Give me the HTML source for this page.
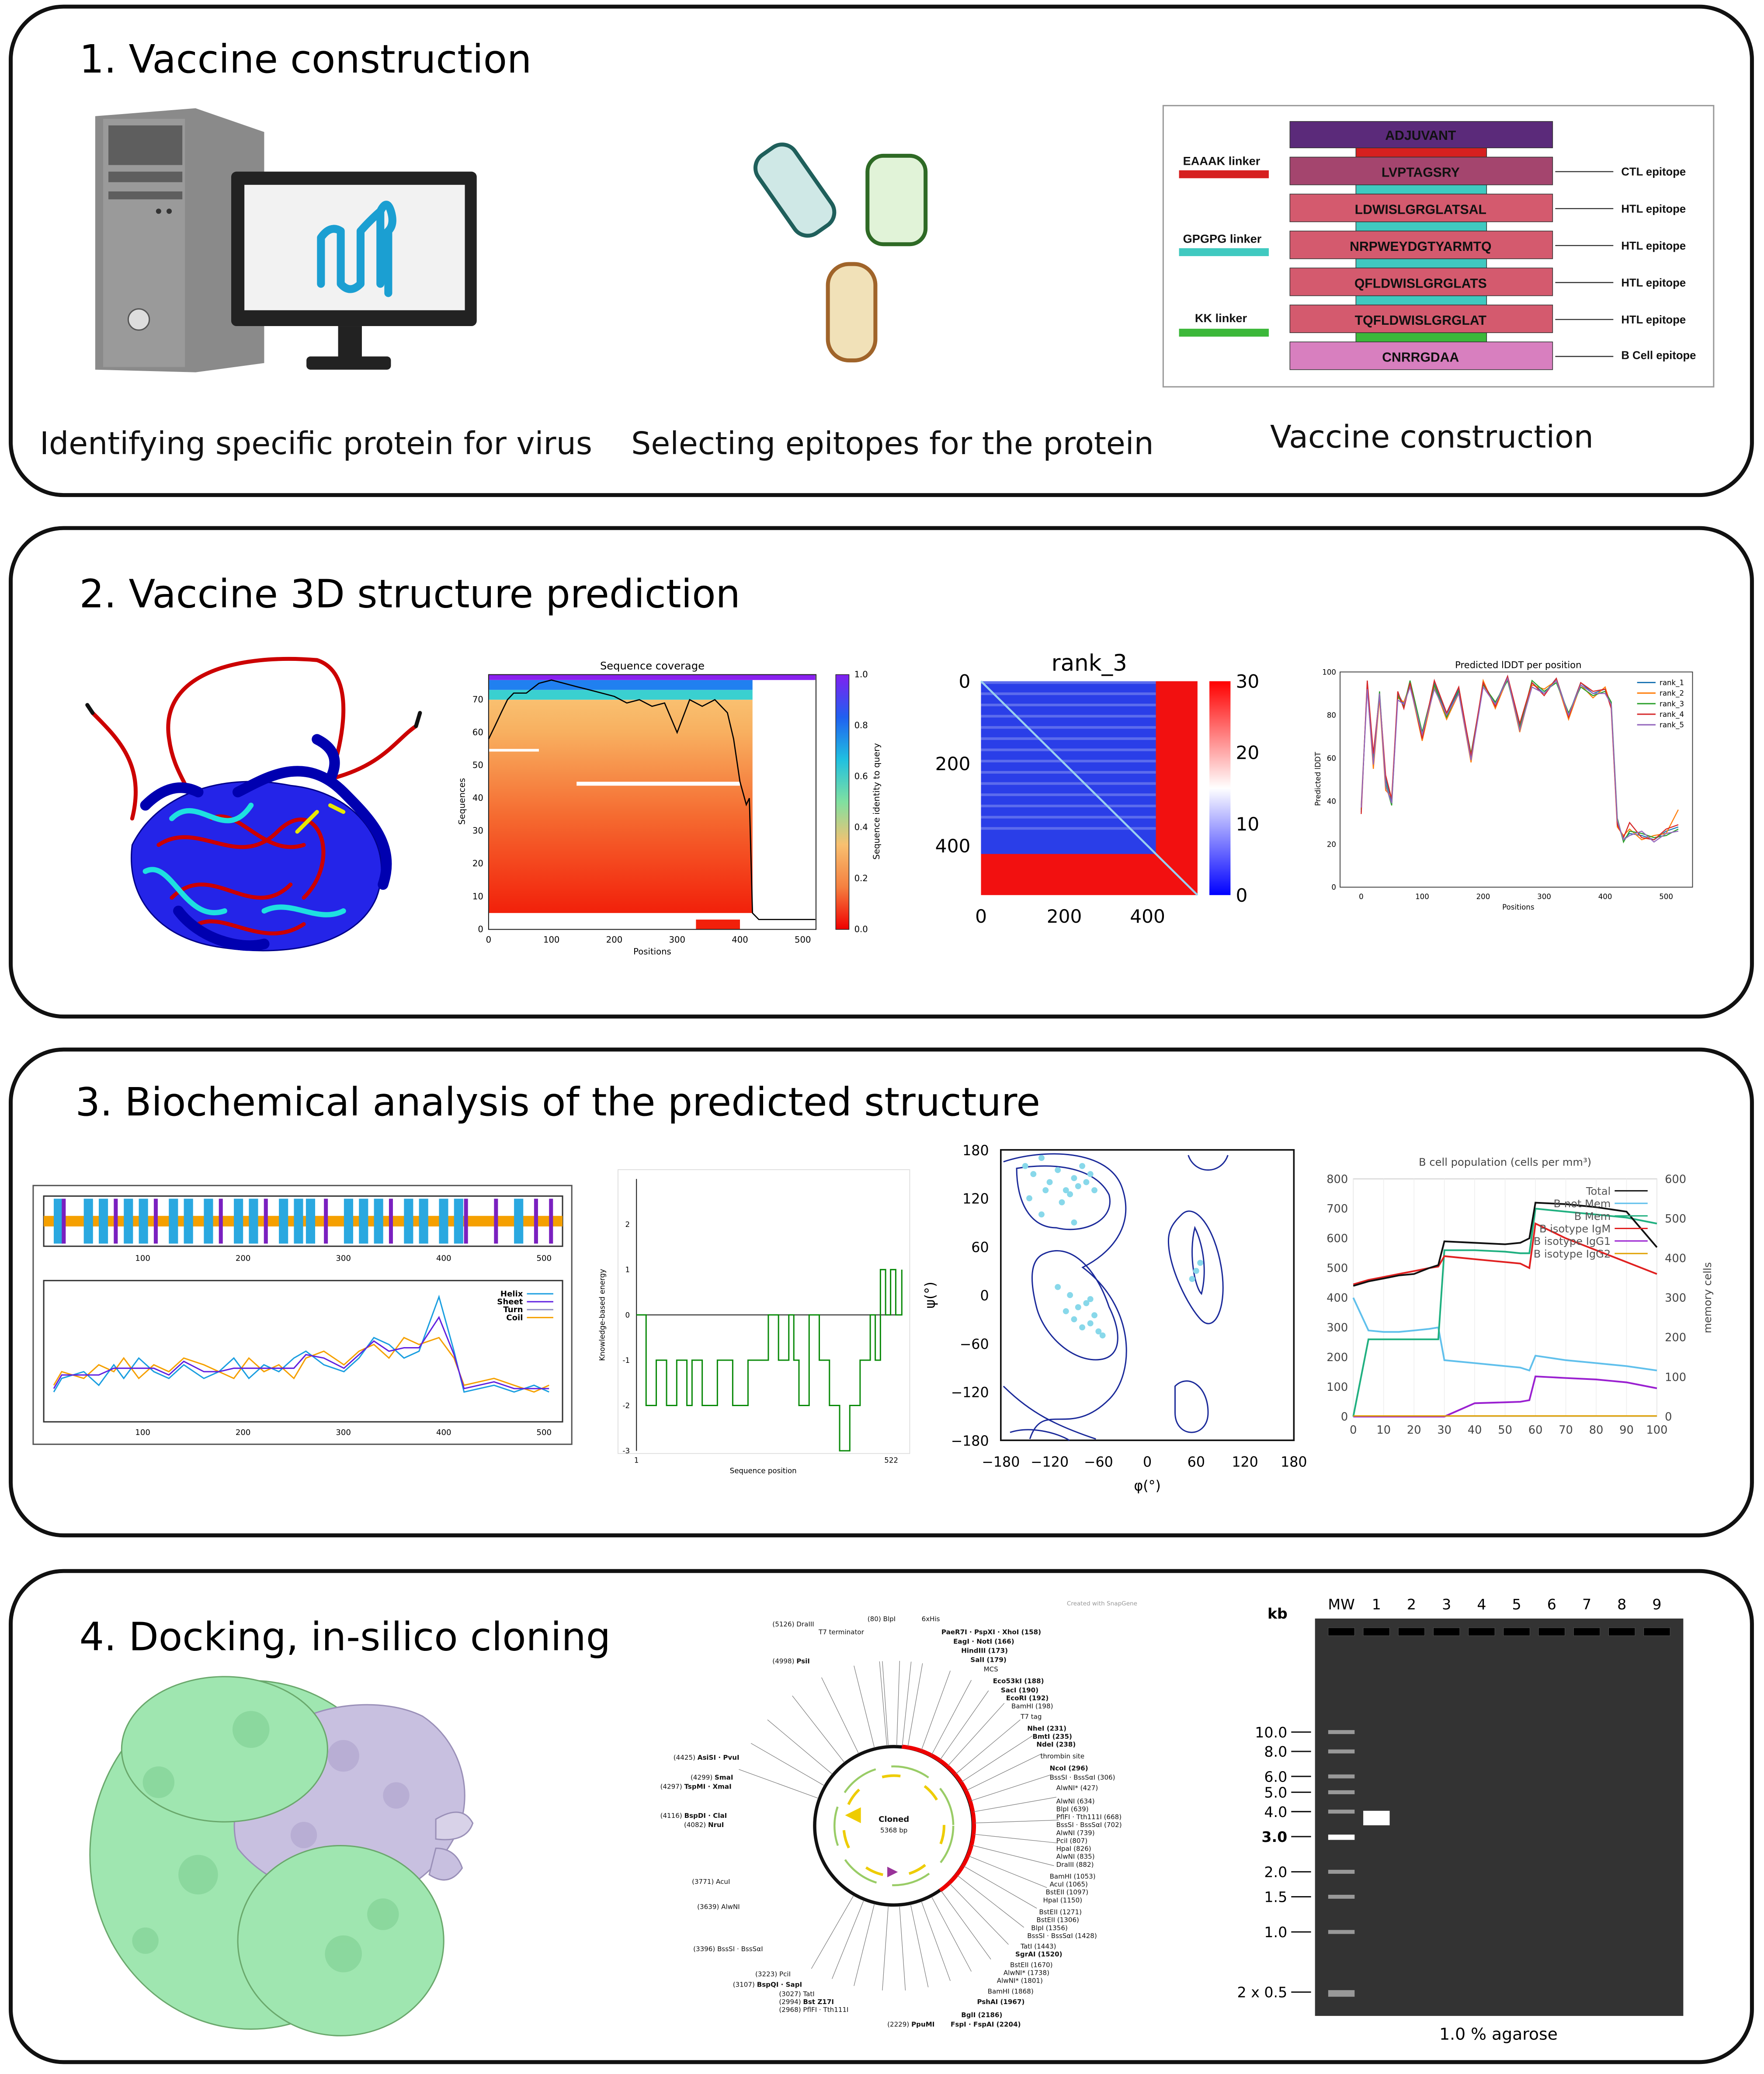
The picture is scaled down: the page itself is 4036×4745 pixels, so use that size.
<!DOCTYPE html>
<html><head><meta charset="utf-8">
<style>
html,body{margin:0;padding:0;background:#fff;}
svg{display:block;font-family:"DejaVu Sans","Liberation Sans",sans-serif;}
</style></head>
<body>
<svg id="fig" width="4036" height="4745" viewBox="0 0 1336 1571" xmlns="http://www.w3.org/2000/svg">
<rect width="1336" height="1571" fill="#fff"/>
<!-- panels -->
<rect x="8" y="5" width="1319" height="370" rx="40" fill="none" stroke="#111" stroke-width="3"/>
<rect x="8" y="400" width="1319" height="370" rx="40" fill="none" stroke="#111" stroke-width="3"/>
<rect x="8" y="795" width="1319" height="368" rx="40" fill="none" stroke="#111" stroke-width="3"/>
<rect x="8" y="1190" width="1319" height="372" rx="40" fill="none" stroke="#111" stroke-width="3"/>

<text x="60" y="55" font-size="29.4">1. Vaccine construction</text>
<text x="60" y="460" font-size="29.4">2. Vaccine 3D structure prediction</text>
<text x="57" y="845" font-size="29.4">3. Biochemical analysis of the predicted structure</text>
<text x="60" y="1250" font-size="29.4">4. Docking, in-silico cloning</text>

<!-- computer -->
<g>
<polygon points="72,88 148,82 200,100 200,275 148,282 72,280" fill="#8a8a8a"/>
<rect x="78" y="90" width="62" height="188" fill="#9a9a9a"/>
<rect x="82" y="95" width="56" height="30" fill="#5e5e5e"/>
<rect x="82" y="130" width="56" height="8" fill="#5e5e5e"/>
<rect x="82" y="145" width="56" height="6" fill="#5e5e5e"/>
<circle cx="105" cy="242" r="8" fill="#ddd" stroke="#555"/>
<circle cx="120" cy="160" r="2" fill="#333"/><circle cx="128" cy="160" r="2" fill="#333"/>
<rect x="175" y="130" width="186" height="117" rx="4" fill="#222"/>
<rect x="185" y="140" width="167" height="95" fill="#f2f2f2"/>
<rect x="256" y="247" width="18" height="24" fill="#222"/>
<rect x="232" y="270" width="64" height="10" rx="3" fill="#222"/>
<g fill="none" stroke="#1b9fd2" stroke-width="6" stroke-linecap="round">
<path d="M243 180 V215 M258 175 V215 M273 175 V215 M288 160 V215 M243 180 q7 -10 15 -5 M258 215 q7 8 15 0 M273 175 q7 -8 15 -15 q5 -10 8 0 q3 10 -2 15 V222"/>
</g></g>
<!-- capsules -->
<g>
<rect x="585" y="108" width="34" height="72" rx="12" fill="#cfe8e6" stroke="#1f5f5b" stroke-width="3" transform="rotate(-35 602 144)"/>
<rect x="657" y="118" width="44" height="67" rx="12" fill="#e1f3d8" stroke="#2e6a25" stroke-width="3"/>
<rect x="627" y="200" width="36" height="73" rx="16" fill="#f1e1b8" stroke="#a0642a" stroke-width="3"/>
</g>
<!-- vaccine construct -->
<g font-family="Liberation Sans, sans-serif" font-weight="bold">
<rect x="881" y="80" width="417" height="213" fill="#fff" stroke="#999"/>
<rect x="1027" y="112" width="99" height="7" fill="#d62020" stroke="#333" stroke-width=".5"/>
<rect x="1027" y="140" width="99" height="7" fill="#40c9c0" stroke="#333" stroke-width=".5"/>
<rect x="1027" y="168" width="99" height="7" fill="#40c9c0" stroke="#333" stroke-width=".5"/>
<rect x="1027" y="196" width="99" height="7" fill="#40c9c0" stroke="#333" stroke-width=".5"/>
<rect x="1027" y="224" width="99" height="7" fill="#40c9c0" stroke="#333" stroke-width=".5"/>
<rect x="1027" y="252" width="99" height="7" fill="#3cb83a" stroke="#333" stroke-width=".5"/>
<rect x="977" y="92" width="199" height="20" fill="#5b2a7a" stroke="#333" stroke-width=".5"/>
<rect x="977" y="119" width="199" height="21" fill="#a4456e" stroke="#333" stroke-width=".5"/>
<rect x="977" y="147" width="199" height="21" fill="#d45a6e" stroke="#333" stroke-width=".5"/>
<rect x="977" y="175" width="199" height="21" fill="#d45a6e" stroke="#333" stroke-width=".5"/>
<rect x="977" y="203" width="199" height="21" fill="#d45a6e" stroke="#333" stroke-width=".5"/>
<rect x="977" y="231" width="199" height="21" fill="#d45a6e" stroke="#333" stroke-width=".5"/>
<rect x="977" y="259" width="199" height="21" fill="#d87fbf" stroke="#333" stroke-width=".5"/>
<g font-size="10" text-anchor="middle" fill="#111">
<text x="1076" y="106">ADJUVANT</text><text x="1076" y="134">LVPTAGSRY</text><text x="1076" y="162">LDWISLGRGLATSAL</text>
<text x="1076" y="190">NRPWEYDGTYARMTQ</text><text x="1076" y="218">QFLDWISLGRGLATS</text><text x="1076" y="246">TQFLDWISLGRGLAT</text><text x="1076" y="274">CNRRGDAA</text>
</g>
<g font-size="8.5" fill="#111">
<text x="1228" y="133">CTL epitope</text><text x="1228" y="161">HTL epitope</text><text x="1228" y="189">HTL epitope</text>
<text x="1228" y="217">HTL epitope</text><text x="1228" y="245">HTL epitope</text><text x="1228" y="272">B Cell epitope</text>
</g>
<g stroke="#333" stroke-width=".8"><path d="M1178 130H1222M1178 158H1222M1178 186H1222M1178 214H1222M1178 242H1222M1178 270H1222"/></g>
<g font-size="9" fill="#111"><text x="896" y="125">EAAAK linker</text><text x="896" y="184">GPGPG linker</text><text x="905" y="244">KK linker</text></g>
<rect x="893" y="129" width="68" height="6" fill="#d62020"/><rect x="893" y="188" width="68" height="6" fill="#40c9c0"/><rect x="893" y="249" width="68" height="6" fill="#3cb83a"/>
</g>
<g font-size="23.6" fill="#111">
<text x="30" y="344">Identifying specific protein for virus</text>
<text x="478" y="344">Selecting epitopes for the protein</text>
<text x="962" y="339">Vaccine construction</text>
</g>

<!-- protein cartoon -->
<g fill="none" stroke-linecap="round">
<path d="M240 500 C180 495 120 510 128 560 C132 590 150 600 140 610 M70 540 C90 560 110 580 100 620 M240 500 C270 510 260 560 250 590 C290 580 300 560 315 550" stroke="#c00" stroke-width="3"/>
<path d="M70 540 l-4 -6 M315 550 l3 -10" stroke="#111" stroke-width="3"/>
<path d="M100 640 C120 600 170 585 220 595 C270 600 300 640 285 680 C270 715 220 725 170 718 C120 712 95 680 100 640Z" fill="#2424e8" stroke="#00008a"/>
<path d="M120 640 C150 620 180 660 210 630 C240 600 260 650 230 680 M130 680 C160 650 190 700 220 670 M150 700 C170 690 200 720 230 700 M160 620 C180 610 200 650 230 640" stroke="#c00" stroke-width="3"/>
<path d="M130 620 C150 600 170 640 190 610 M200 690 C220 680 240 700 260 690 M110 660 C130 650 140 700 170 690" stroke="#1ee0e0" stroke-width="4"/>
<path d="M180 600 C200 590 230 570 260 600 C280 620 300 640 290 670" stroke="#0000b0" stroke-width="8"/>
<path d="M135 690 C150 710 180 720 200 715 M240 560 q20 10 10 30 M110 610 q20 -20 40 -10" stroke="#0000b0" stroke-width="8"/>
<path d="M225 630 l15 -15 M250 610 l10 5" stroke="#e8e800" stroke-width="3"/>
</g>

<!-- Panel 3 static: secondary structure box -->
<g>
<rect x="25" y="898" width="408" height="196" fill="#fff" stroke="#555"/>
<rect x="33" y="906" width="393" height="38" fill="#fff" stroke="#333"/>
<rect x="33" y="970" width="393" height="107" fill="#fff" stroke="#333"/>
<rect x="33" y="921" width="393" height="8" fill="#f5a000"/>
<g id="ssbars"></g>
<g font-size="6" text-anchor="middle"><text x="108" y="955">100</text><text x="184" y="955">200</text><text x="260" y="955">300</text><text x="336" y="955">400</text><text x="412" y="955">500</text>
<text x="108" y="1087">100</text><text x="184" y="1087">200</text><text x="260" y="1087">300</text><text x="336" y="1087">400</text><text x="412" y="1087">500</text></g>
<g font-size="6" font-weight="bold" text-anchor="end"><text x="396" y="982">Helix</text><text x="396" y="988">Sheet</text><text x="396" y="994">Turn</text><text x="396" y="1000">Coil</text></g>
<path d="M399 980h20" stroke="#1a9ee0"/><path d="M399 986h20" stroke="#6020e0"/><path d="M399 992h20" stroke="#9090c0"/><path d="M399 998h20" stroke="#f5a000"/>
<g id="sslines"></g>
</g>

<!-- docking -->
<g>
<ellipse cx="190" cy="1405" rx="122" ry="132" fill="#9fe6b0" stroke="#6aa86c"/>
<path d="M215 1310 C240 1290 290 1285 320 1300 C350 1320 360 1360 345 1390 C330 1420 300 1440 270 1440 C230 1440 195 1420 180 1400 C170 1370 190 1330 215 1310Z" fill="#c8c0e0" stroke="#9a90b8"/>
<path d="M330 1378 q20 -12 28 3 q-5 15 -28 12z" fill="#d8d2e8" stroke="#9a90b8"/>
<path d="M330 1400 q15 0 20 15 q-10 15 -25 5z" fill="#c8c0e0" stroke="#9a90b8"/>
<ellipse cx="170" cy="1325" rx="78" ry="55" fill="#9fe6b0" stroke="#6aa86c"/>
<ellipse cx="258" cy="1470" rx="78" ry="72" fill="#9fe6b0" stroke="#6aa86c"/>
<g fill="#7fcf92" opacity=".6"><circle cx="120" cy="1350" r="12"/><circle cx="150" cy="1420" r="15"/><circle cx="260" cy="1480" r="14"/><circle cx="110" cy="1470" r="10"/><circle cx="290" cy="1450" r="12"/><circle cx="190" cy="1310" r="14"/></g>
<g fill="#a89cc8" opacity=".5"><circle cx="260" cy="1330" r="12"/><circle cx="300" cy="1360" r="10"/><circle cx="230" cy="1390" r="10"/></g>
</g>

<!-- plasmid map -->
<g font-size="5" fill="#111">
<circle cx="677" cy="1383" r="60" fill="none" stroke="#111" stroke-width="2.5"/>
<path d="M683 1323 A60 60 0 0 1 712 1432" fill="none" stroke="#e00" stroke-width="3"/>
<circle cx="677" cy="1383" r="45" fill="none" stroke="#9c6" stroke-width="1.5" stroke-dasharray="30 12"/>
<circle cx="677" cy="1383" r="38" fill="none" stroke="#ec0" stroke-width="2" stroke-dasharray="14 20"/>
<text x="677" y="1380" text-anchor="middle" font-weight="bold" font-size="6">Cloned</text>
<text x="677" y="1388" text-anchor="middle" font-size="5">5368 bp</text>
<path d="M640 1375 l12 -6 l0 12z" fill="#ec0"/><path d="M672 1414 l8 4 l-8 4z" fill="#939"/>
<g id="plasLines" stroke="#777" stroke-width=".4"></g>
<text x="620" y="1238">T7 terminator</text><text x="657" y="1228">(80)  BlpI</text><text x="698" y="1228">6xHis</text>
<text x="713" y="1238" font-weight="bold">PaeR7I · PspXI · XhoI (158)</text><text x="722" y="1245" font-weight="bold">EagI · NotI (166)</text>
<text x="728" y="1252" font-weight="bold">HindIII (173)</text><text x="735" y="1259" font-weight="bold">SalI (179)</text>
<text x="745" y="1266">MCS</text><text x="752" y="1275" font-weight="bold">Eco53kI (188)</text><text x="758" y="1282" font-weight="bold">SacI (190)</text>
<text x="762" y="1288" font-weight="bold">EcoRI (192)</text><text x="766" y="1294">BamHI (198)</text><text x="773" y="1302">T7 tag</text>
<text x="778" y="1311" font-weight="bold">NheI (231)</text><text x="782" y="1317" font-weight="bold">BmtI (235)</text><text x="785" y="1323" font-weight="bold">NdeI (238)</text>
<text x="788" y="1332">thrombin site</text><text x="795" y="1341" font-weight="bold">NcoI (296)</text><text x="795" y="1348">BssSI · BssSαI (306)</text>
<text x="800" y="1356">AlwNI* (427)</text><text x="800" y="1366">AlwNI (634)</text><text x="800" y="1372">BlpI (639)</text><text x="800" y="1378">PflFI · Tth111I (668)</text>
<text x="800" y="1384">BssSI · BssSαI (702)</text><text x="800" y="1390">AlwNI (739)</text><text x="800" y="1396">PciI (807)</text>
<text x="800" y="1402">HpaI (826)</text><text x="800" y="1408">AlwNI (835)</text><text x="800" y="1414">DraIII (882)</text>
<text x="795" y="1423">BamHI (1053)</text><text x="795" y="1429">AcuI (1065)</text><text x="792" y="1435">BstEII (1097)</text><text x="790" y="1441">HpaI (1150)</text>
<text x="787" y="1450">BstEII (1271)</text><text x="785" y="1456">BstEII (1306)</text><text x="781" y="1462">BlpI (1356)</text><text x="778" y="1468">BssSI · BssSαI (1428)</text>
<text x="773" y="1476">TatI (1443)</text><text x="769" y="1482" font-weight="bold">SgrAI (1520)</text><text x="765" y="1490">BstEII (1670)</text>
<text x="760" y="1496">AlwNI* (1738)</text><text x="755" y="1502">AlwNI* (1801)</text><text x="748" y="1510">BamHI (1868)</text>
<text x="740" y="1518" font-weight="bold">PshAI (1967)</text><text x="728" y="1528" font-weight="bold">BglI (2186)</text><text x="720" y="1535" font-weight="bold">FspI · FspAI (2204)</text>
<text x="672" y="1535">(2229) <tspan font-weight="bold">PpuMI</tspan></text>
<text x="585" y="1232">(5126) DraIII</text><text x="585" y="1260">(4998) <tspan font-weight="bold">PsiI</tspan></text>
<text x="510" y="1333">(4425) <tspan font-weight="bold">AsiSI · PvuI</tspan></text><text x="523" y="1348">(4299) <tspan font-weight="bold">SmaI</tspan></text>
<text x="500" y="1355">(4297) <tspan font-weight="bold">TspMI · XmaI</tspan></text><text x="500" y="1377">(4116) <tspan font-weight="bold">BspDI · ClaI</tspan></text>
<text x="518" y="1384">(4082) <tspan font-weight="bold">NruI</tspan></text><text x="524" y="1427">(3771) AcuI</text><text x="528" y="1446">(3639) AlwNI</text>
<text x="525" y="1478">(3396) BssSI · BssSαI</text><text x="572" y="1497">(3223) PciI</text><text x="555" y="1505">(3107) <tspan font-weight="bold">BspQI · SapI</tspan></text>
<text x="590" y="1512">(3027) TatI</text><text x="590" y="1518">(2994) <tspan font-weight="bold">Bst Z17I</tspan></text><text x="590" y="1524">(2968) PflFI · Tth111I</text>
<text x="808" y="1216" fill="#999" font-size="4.5">Created with SnapGene</text>
</g>

<!-- gel -->
<g>
<rect x="996" y="1226" width="279" height="301" fill="#333"/>
<text x="960" y="1226" font-size="11" font-weight="bold">kb</text>
<text x="1135" y="1545" font-size="12.5" text-anchor="middle">1.0 % agarose</text>
<g id="gel"></g>
</g>

<!-- chart layers -->
<g id="cov"></g><g id="heat"></g><g id="plddt"></g><g id="energy"></g><g id="rama"></g><g id="bcell"></g>
</svg>

<script>
// ---------- data ----------
const covPos = [0,10,20,30,40,60,80,100,120,140,160,180,200,220,240,260,280,300,320,340,360,380,390,400,410,415,420,430,520];
const covDepth = [58,62,66,70,72,72,75,76,75,74,73,72,71,69,70,68,69,60,70,68,70,66,58,45,38,40,5,3,3];
const covTicksX = [0,100,200,300,400,500];
const covTicksY = [0,10,20,30,40,50,60,70];
const cbarTicks = [0.0,0.2,0.4,0.6,0.8,1.0];

const heatTicks = [0,200,400];
const heatCbarTicks = [0,10,20,30];
const heatSplit = [420];

const plPos = [0,10,20,30,40,50,60,70,80,100,120,140,160,180,200,220,240,260,280,300,320,340,360,380,400,410,420,430,440,460,480,500,520];
const rank1 = [35,95,60,90,50,40,90,85,95,70,95,80,92,60,95,85,98,75,95,90,97,80,95,90,92,85,30,22,25,24,22,26,28];
const rank2 = [38,93,55,88,45,42,88,86,94,68,93,78,90,58,96,83,97,72,94,92,96,78,94,88,93,84,28,24,27,22,24,25,36];
const rank3 = [36,94,58,91,48,38,89,84,96,72,94,79,91,62,94,86,96,74,96,91,95,81,93,89,91,86,32,21,26,25,23,24,27];
const rank4 = [34,96,62,89,52,41,91,83,95,69,96,81,93,61,95,84,98,76,95,89,97,79,95,91,92,83,29,23,30,23,22,27,29];
const rank5 = [37,92,57,90,47,39,87,85,93,71,92,80,90,59,93,85,97,73,93,90,96,80,94,90,90,85,31,22,24,26,21,25,26];
const plTicksX = [0,100,200,300,400,500];
const plTicksY = [0,20,40,60,80,100];

const enPos = [1,20,40,60,80,100,110,130,160,190,220,240,260,280,300,310,320,340,360,380,400,420,440,460,470,480,490,500,510,522];
const enVal = [0,-2,-1,-2,-1,-2,-1,-2,-1,-2,-1,-1,0,-1,0,-1,-2,0,-1,-2,-3,-2,-1,0,-1,1,0,1,0,1];
const enTicksY = [-3,-2,-1,0,1,2];

const ramaTicks = [-180,-120,-60,0,60,120,180];
const ramaPhi = [-150,-140,-130,-120,-110,-100,-90,-80,-145,-125,-105,-95,-85,-75,-70,-65,-100,-90,-80,-70,-60,-75,-65,-55,-110,-95,-85,-70,60,55,65,-130,-90];
const ramaPsi = [160,150,170,140,155,130,145,160,120,130,115,125,135,140,150,130,-20,-30,-40,-35,-45,-10,-25,-50,10,0,-15,-5,30,20,40,100,90];

const bTime = [0,5,10,15,20,25,28,30,40,50,55,58,60,70,80,90,100];
const bTotal = [440,455,465,475,480,500,510,590,585,580,585,600,720,715,705,690,570];
const bNotMem = [400,290,285,285,290,295,300,190,180,170,165,155,205,190,180,170,155];
const bMemR = [445,460,470,480,490,500,505,540,530,520,515,500,650,600,560,520,480];
const bIgM = [0,260,260,260,260,260,260,560,560,555,550,550,700,690,680,670,650];
const bIgG1 = [0,0,0,0,0,0,0,0,45,48,50,55,135,130,125,115,95];
const bTicksX = [0,10,20,30,40,50,60,70,80,90,100];
const bTicksY = [0,100,200,300,400,500,600,700,800];
const bTicksY2 = [0,100,200,300,400,500,600];

const gelLanes = ["MW","1","2","3","4","5","6","7","8","9"];
const ladderKb = [10,8,6,5,4,3,2,1.5,1,0.5];
const ladderLabels = ["10.0","8.0","6.0","5.0","4.0","3.0","2.0","1.5","1.0","2 x 0.5"];
const sampleKb = [3.8];

const ssPos = [10,18,40,55,70,80,95,110,125,140,160,175,190,205,220,235,250,262,280,300,315,330,345,360,375,395,410,420,450,470,490,505];
const ssType = [1,2,1,1,2,1,1,2,1,1,1,2,1,1,2,1,1,1,2,1,1,1,2,1,1,1,1,2,2,1,2,2];
const ssHelix = [20,30,35,25,40,30,45,35,30,40,30,35,45,30,40,35,45,50,40,35,45,60,55,45,50,90,50,20,25,20,25,20];
const ssCoil = [25,35,30,40,35,45,30,40,35,45,40,35,30,45,35,40,30,45,50,40,50,55,45,60,55,60,45,25,30,25,20,25];

// ---------- helpers ----------
const NS = "http://www.w3.org/2000/svg";
function E(tag, attrs, parent){const e=document.createElementNS(NS,tag);for(const k in attrs)e.setAttribute(k,attrs[k]);parent.appendChild(e);return e;}
function lin(d0,d1,r0,r1){return v=>r0+(v-d0)*(r1-r0)/(d1-d0);}
function pts(xs,ys,sx,sy){return xs.map((x,i)=>sx(x).toFixed(1)+","+sy(ys[i]).toFixed(1)).join(" ");}

// ---------- sequence coverage ----------
(function(){
const g=document.getElementById('cov');
const sx=lin(0,500,370,608), sy=lin(0,70,704,530);
let t=E('text',{x:494,y:507,'font-size':8,'text-anchor':'middle'},g);t.textContent='Sequence coverage';


const grad=E('linearGradient',{id:'covg',x1:0,y1:1,x2:0,y2:0},g);
E('stop',{offset:'0','stop-color':'#f2200a'},grad);E('stop',{offset:'0.45','stop-color':'#f56a30'},grad);E('stop',{offset:'0.85','stop-color':'#f8b060'},grad);E('stop',{offset:'1','stop-color':'#f9c070'},grad);
let r=E('rect',{x:370,y:sy(70),width:sx(420)-370,height:sy(5)-sy(70),fill:'url(#covg)'},g);


E('rect',{x:370,y:sy(73),width:sx(420)-370,height:sy(70)-sy(73),fill:'#3ad0d0'},g);
E('rect',{x:370,y:sy(76),width:sx(420)-370,height:sy(73)-sy(76),fill:'#2080f0'},g);
E('rect',{x:370,y:511,width:sx(520)-370,height:sy(76)-511,fill:'#8a20f0'},g);
E('rect',{x:sx(140),y:sy(45),width:sx(400)-sx(140),height:3,fill:'#fff'},g);
E('rect',{x:sx(0),y:sy(55),width:sx(80)-sx(0),height:2,fill:'#fff'},g);
E('rect',{x:sx(330),y:sy(3),width:sx(400)-sx(330),height:sy(0)-sy(3),fill:'#f2200a'},g);
E('rect',{x:370,y:511,width:248,height:193,fill:'none',stroke:'#222','stroke-width':.7},g);
let l=E('polyline',{points:pts(covPos,covDepth,sx,sy),fill:'none',stroke:'#000','stroke-width':.9},g);


covTicksX.forEach(v=>{let tt=E('text',{x:sx(v),y:714,'font-size':6.5,'text-anchor':'middle'},g);tt.textContent=v;

});
covTicksY.forEach(v=>{let tt=E('text',{x:366,y:sy(v)+2,'font-size':6.5,'text-anchor':'end'},g);tt.textContent=v;

});
t=E('text',{x:494,y:723,'font-size':6.5,'text-anchor':'middle'},g);t.textContent='Positions';


t=E('text',{x:352,y:607,'font-size':6.5,'text-anchor':'middle',transform:'rotate(-90 352 607)'},g);t.textContent='Sequences';


const cg=E('linearGradient',{id:'cbar',x1:0,y1:1,x2:0,y2:0},g);
['#f00000','#f58040','#f8c070','#80e0a0','#20c0e0','#2060f0','#8020f0'].forEach((c,i)=>E('stop',{offset:i/6,'stop-color':c},cg));
E('rect',{x:633,y:511,width:10,height:193,fill:'url(#cbar)',stroke:'#222','stroke-width':.5},g);
const cy=lin(0,1,704,511);
cbarTicks.forEach(v=>{let tt=E('text',{x:647,y:cy(v)+2,'font-size':6.5},g);tt.textContent=v.toFixed(1);

});
t=E('text',{x:666,y:607,'font-size':6.5,'text-anchor':'middle',transform:'rotate(-90 666 607)'},g);t.textContent='Sequence identity to query';


})();

// ---------- rank_3 heatmap ----------
(function(){
const g=document.getElementById('heat');
const s=lin(0,520,743,907), sy=lin(0,520,516,678);
let t=E('text',{x:825,y:508,'font-size':17,'text-anchor':'middle'},g);t.textContent='rank_3';


let r=E('rect',{x:743,y:516,width:164,height:162,fill:'#f21010'},g);


r=E('rect',{x:743,y:516,width:s(heatSplit[0])-743,height:sy(heatSplit[0])-516,fill:'#2a3ee8'},g);


for(let i=0;i<14;i++){E('rect',{x:743,y:516+i*8.5,width:s(heatSplit[0])-743,height:2,fill:'#7f8cf0',opacity:.6},g);}
E('line',{x1:743,y1:516,x2:907,y2:678,stroke:'#9ad0f0','stroke-width':1.5},g);
heatTicks.forEach(v=>{let a=E('text',{x:s(v),y:699,'font-size':14,'text-anchor':'middle'},g);a.textContent=v;


let b=E('text',{x:735,y:sy(v)+5,'font-size':14,'text-anchor':'end'},g);b.textContent=v;

});
const hg=E('linearGradient',{id:'hcb',x1:0,y1:1,x2:0,y2:0},g);
E('stop',{offset:0,'stop-color':'#0000ff'},hg);E('stop',{offset:.5,'stop-color':'#ffffff'},hg);E('stop',{offset:1,'stop-color':'#ff0000'},hg);
E('rect',{x:916,y:516,width:16,height:162,fill:'url(#hcb)'},g);
const cy=lin(0,30,678,516);
heatCbarTicks.forEach(v=>{let a=E('text',{x:936,y:cy(v)+5,'font-size':14},g);a.textContent=v;

});
})();

// ---------- pLDDT ----------
(function(){
const g=document.getElementById('plddt');
const sx=lin(0,500,1031,1262), sy=lin(0,100,672,509);
E('rect',{x:1015,y:509,width:267,height:163,fill:'none',stroke:'#333','stroke-width':.6},g);
let t=E('text',{x:1150,y:506,'font-size':7,'text-anchor':'middle'},g);t.textContent='Predicted lDDT per position';


const ser=[rank1,rank2,rank3,rank4,rank5], cols=['#1f77b4','#ff7f0e','#2ca02c','#d62728','#9467bd'];
ser.forEach((s,i)=>{let p=E('polyline',{points:pts(plPos,s,sx,sy),fill:'none',stroke:cols[i],'stroke-width':.8},g);


E('line',{x1:1240,x2:1254,y1:517+i*8,y2:517+i*8,stroke:cols[i],'stroke-width':1},g);
let lt=E('text',{x:1257,y:519+i*8,'font-size':5.5},g);lt.textContent='rank_'+(i+1);

});
plTicksX.forEach(v=>{let a=E('text',{x:sx(v),y:681,'font-size':5.5,'text-anchor':'middle'},g);a.textContent=v;

});
plTicksY.forEach(v=>{let a=E('text',{x:1012,y:sy(v)+2,'font-size':5.5,'text-anchor':'end'},g);a.textContent=v;

});
t=E('text',{x:1150,y:689,'font-size':5.5,'text-anchor':'middle'},g);t.textContent='Positions';


t=E('text',{x:1000,y:590,'font-size':5.5,'text-anchor':'middle',transform:'rotate(-90 1000 590)'},g);t.textContent='Predicted lDDT';


})();

// ---------- secondary structure ----------
(function(){
const g=document.getElementById('ssbars'), gl=document.getElementById('sslines');
const sx=lin(0,500,33,412);
ssPos.forEach((p,i)=>{let r=E('rect',{x:sx(p),y:908,width:ssType[i]==1?7:3,height:34,fill:ssType[i]==1?'#2aa8e0':'#7a20c0'},g);

});
const sy=lin(0,100,1075,972);
let a=E('polyline',{points:pts(ssPos,ssHelix,sx,sy),fill:'none',stroke:'#1a9ee0','stroke-width':1},gl);


let b=E('polyline',{points:pts(ssPos,ssCoil,sx,sy),fill:'none',stroke:'#f5a000','stroke-width':1},gl);


let c=E('polyline',{points:pts(ssPos,ssHelix.map((v,i)=>(v+ssCoil[i])/2),sx,sy),fill:'none',stroke:'#6020e0','stroke-width':1},gl);


})();

// ---------- energy ----------
(function(){
const g=document.getElementById('energy');
const sx=lin(1,522,482,683), sy=lin(0,1,996,961.7);
E('rect',{x:468,y:886,width:221,height:215,fill:'none',stroke:'#ddd','stroke-width':.6},g);
E('line',{x1:482,x2:482,y1:893,y2:1099,stroke:'#222','stroke-width':.7},g);
E('line',{x1:482,x2:683,y1:996,y2:996,stroke:'#222','stroke-width':.7},g);
let d='M'+sx(enPos[0])+' '+sy(enVal[0]);
for(let i=1;i<enPos.length;i++){d+=' H'+sx(enPos[i]).toFixed(1)+' V'+sy(enVal[i]).toFixed(1);}
let p=E('path',{d:d,fill:'none',stroke:'#0a8a0a','stroke-width':1},g);


enTicksY.forEach(v=>{let a=E('text',{x:477,y:sy(v)+2,'font-size':5.5,'text-anchor':'end'},g);a.textContent=v;

});
let t=E('text',{x:482,y:1108,'font-size':5.5,'text-anchor':'middle'},g);t.textContent='1';


t=E('text',{x:675,y:1108,'font-size':5.5,'text-anchor':'middle'},g);t.textContent='522';


t=E('text',{x:578,y:1116,'font-size':5.5,'text-anchor':'middle'},g);t.textContent='Sequence position';


t=E('text',{x:458,y:996,'font-size':5.5,'text-anchor':'middle',transform:'rotate(-90 458 996)'},g);t.textContent='Knowledge-based energy';


})();

// ---------- Ramachandran ----------
(function(){
const g=document.getElementById('rama');
const sx=lin(-180,180,758,980), sy=lin(-180,180,1091,871);
E('rect',{x:758,y:871,width:222,height:220,fill:'#fff',stroke:'#111','stroke-width':1.2},g);
const C='#1b2a9a';
[['M760 880 C790 870 840 870 850 900 C860 930 840 950 820 960 C860 990 860 1040 840 1060 C810 1090 790 1060 780 1090 M760 1050 C780 1070 800 1080 830 1090'],
 ['M770 885 C800 880 830 885 840 905 C845 925 820 935 800 930 C780 930 770 910 770 885Z'],
 ['M790 950 C810 940 830 960 840 990 C850 1010 850 1030 830 1030 C810 1030 790 1010 785 990 C780 970 780 955 790 950Z'],
 ['M895 920 C905 910 920 930 925 960 C930 990 920 1010 910 1000 C900 990 885 960 885 940 C885 930 890 925 895 920Z'],
 ['M900 875 C905 890 925 890 930 875'],['M890 1050 C900 1040 915 1050 915 1070 C915 1090 890 1090 890 1070Z'],
 ['M905 930 C910 940 915 960 910 980 C905 975 900 950 905 930Z'],['M765 1085 C780 1080 800 1085 810 1091']
].forEach(d=>{let p=E('path',{d:d[0],fill:'none',stroke:C,'stroke-width':1},g);

});
ramaPhi.forEach((ph,i)=>{let c=E('circle',{cx:sx(ph),cy:sy(ramaPsi[i]),r:2.3,fill:'#88d8ea'},g);

});
ramaTicks.forEach(v=>{let a=E('text',{x:sx(v),y:1111,'font-size':10.5,'text-anchor':'middle'},g);a.textContent=(v<0?'\u2212'+(-v):v);


let b=E('text',{x:749,y:sy(v)+4,'font-size':10.5,'text-anchor':'end'},g);b.textContent=(v<0?'\u2212'+(-v):v);

});
let t=E('text',{x:869,y:1129,'font-size':10.5,'text-anchor':'middle'},g);t.textContent='\u03c6(\u00b0)';


t=E('text',{x:708,y:981,'font-size':10.5,'text-anchor':'middle',transform:'rotate(-90 708 981)'},g);t.textContent='\u03c8(\u00b0)';


})();

// ---------- B cell ----------
(function(){
const g=document.getElementById('bcell');
const sx=lin(0,100,1025,1255), sy=lin(0,800,1073,893), sy2=lin(0,600,1073,893);
E('rect',{x:1025,y:893,width:230,height:180,fill:'#fff',stroke:'#ccc','stroke-width':.6},g);
bTicksX.forEach(v=>{E('line',{x1:sx(v),x2:sx(v),y1:893,y2:1073,stroke:'#eee','stroke-width':.5},g);
let a=E('text',{x:sx(v),y:1086,'font-size':8.5,'text-anchor':'middle',fill:'#444'},g);a.textContent=v;

});
bTicksY.forEach(v=>{let a=E('text',{x:1021,y:sy(v)+3,'font-size':8.5,'text-anchor':'end',fill:'#444'},g);a.textContent=v;

});
bTicksY2.forEach(v=>{let a=E('text',{x:1261,y:sy2(v)+3,'font-size':8.5,fill:'#444'},g);a.textContent=v;

});
const ser=[[bNotMem,'#60c0ec','bcell-not-mem'],[bIgG1,'#9a20d0','bcell-igg1'],[bIgM,'#20b080','bcell-igm'],[bMemR,'#e02020','bcell-mem'],[bTotal,'#111','bcell-total']];
ser.forEach(s=>{let p=E('polyline',{points:pts(bTime,s[0],sx,sy),fill:'none',stroke:s[1],'stroke-width':1.3},g);

});
E('polyline',{points:pts([0,100],[2,2],sx,sy),fill:'none',stroke:'#e0a000','stroke-width':1},g);
const lg=['Total','B not Mem','B Mem','B isotype IgM','B isotype IgG1','B isotype IgG2'], lc=['#111','#60c0ec','#20b080','#e02020','#9a20d0','#e0a000'];
lg.forEach((n,i)=>{let a=E('text',{x:1220,y:905+i*9.5,'font-size':8,'text-anchor':'end',fill:'#555'},g);a.textContent=n;


E('line',{x1:1223,x2:1248,y1:902+i*9.5,y2:902+i*9.5,stroke:lc[i],'stroke-width':1},g);});
let t=E('text',{x:1140,y:883,'font-size':8,'text-anchor':'middle',fill:'#444'},g);t.textContent='B cell population (cells per mm\u00b3)';


t=E('text',{x:1296,y:983,'font-size':8,'text-anchor':'middle',fill:'#444',transform:'rotate(-90 1296 983)'},g);t.textContent='memory cells';


})();

// ---------- plasmid lines ----------
(function(){
const g=document.getElementById('plasLines');
const angles=[-95,-88,-80,-70,-62,-55,-48,-40,-33,-26,-18,-10,-2,6,14,22,30,38,46,54,62,70,78,86,94,104,112,120,200,210,220,232,244,256,266,276];
angles.forEach(a=>{const r=a*Math.PI/180;let l=E('line',{x1:677+61*Math.cos(r),y1:1383+61*Math.sin(r),x2:677+125*Math.cos(r),y2:1383+125*Math.sin(r)},g);

});
})();

// ---------- gel ----------
(function(){
const g=document.getElementById('gel');
const lx=lin(0,9,1016,1255);
const ky=k=>1312+151.4*(1-Math.log10(k));
gelLanes.forEach((n,i)=>{let t=E('text',{x:lx(i),y:1219,'font-size':11,'text-anchor':'middle'},g);t.textContent=n;


E('rect',{x:lx(i)-10,y:1233,width:20,height:6,fill:'#000',stroke:'#555','stroke-width':.3},g);});
ladderKb.forEach((k,i)=>{const y=ky(k);
let b=E('rect',{x:lx(0)-10,y:y-1.5,width:20,height:k==3?4:(k==0.5?5:3),fill:k==3?'#fff':'#999'},g);


E('line',{x1:978,x2:993,y1:y,y2:y,stroke:'#111','stroke-width':1},g);
let t=E('text',{x:975,y:y+4,'font-size':11,'text-anchor':'end','font-weight':k==3?'bold':'normal'},g);t.textContent=ladderLabels[i];

});
sampleKb.forEach(k=>{let b=E('rect',{x:lx(1)-10,y:ky(k)-4,width:20,height:11,fill:'#fff'},g);

});
})();
</script>
</body></html>
